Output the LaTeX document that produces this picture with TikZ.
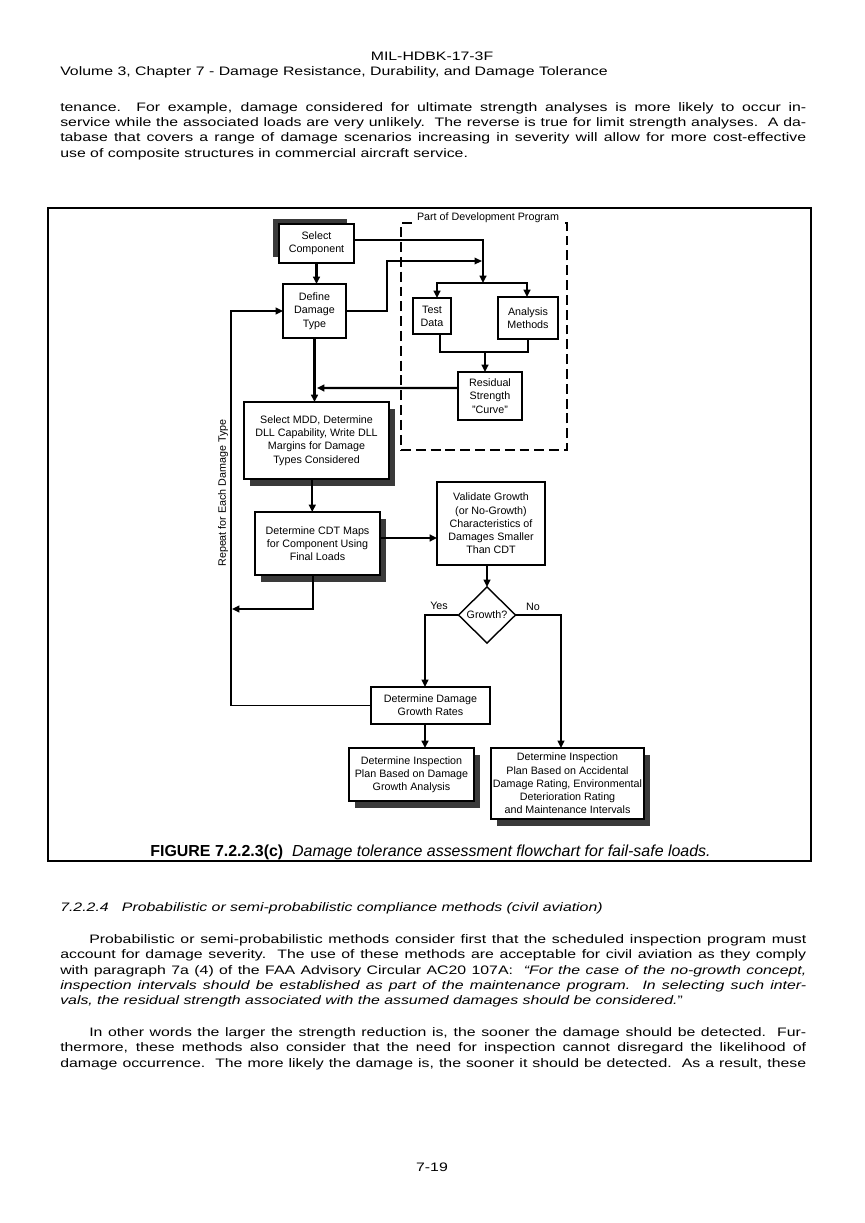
\documentclass[tikz,border=0pt]{standalone}
\usepackage{fontspec}
\setmainfont{Liberation Sans}
\newfontfamily\bodyface[FakeStretch=1.29]{Liberation Sans}
\usetikzlibrary{arrows.meta,shapes.geometric,shadows}
\definecolor{shadowc}{HTML}{3A3A3A}
\newcommand\dfont{\fontsize{7.6}{9.4}\selectfont}
\newcommand\bfont{\bodyface\fontsize{8.7}{10.9}\selectfont}
\newcommand\cfont{\fontsize{11.3}{13}\selectfont}
\newcommand\jline[3]{\node[anchor=base west, inner sep=0pt] (#1) at (60,#2) {\bfont\makebox[528.4pt][s]{#3}};}
\newcommand\iline[3]{\node[anchor=base west, inner sep=0pt] (#1) at (89,#2) {\bfont\makebox[507.9pt][s]{#3}};}
\newcommand\pline[4]{\node[anchor=base west, inner sep=0pt] (#1) at (#2,#3) {\bfont #4};}
\tikzset{
  box/.style={draw, line width=1pt, fill=white, inner sep=0pt, outer sep=0pt, align=center, font=\dfont},
  tip/.tip={Triangle[length=5.2pt,width=4.8pt]},
  thk/.style={line width=1.7pt, -tip},
  thn/.style={line width=0.9pt, -tip},
  ln/.style={line width=0.9pt},
  shad/.style={drop shadow={shadow xshift=4.25pt, shadow yshift=-4.9pt, fill=shadowc, opacity=1}},
  shadul/.style={drop shadow={shadow xshift=-4.6pt, shadow yshift=3.9pt, fill=shadowc, opacity=1}},
  lbl/.style={font=\dfont, inner sep=0.5pt},
}
\begin{document}
\begin{tikzpicture}[x=0.70833pt, y=-0.70833pt]
\fill[white] (0,0) rectangle (864,1223);
\useasboundingbox (0,0) rectangle (864,1223);

% header
\node[anchor=base, inner sep=0pt] (h1) at (432,60.5) {\bfont MIL-HDBK-17-3F};
\pline{h2}{60}{75}{Volume 3, Chapter 7 - Damage Resistance, Durability, and Damage Tolerance}

% paragraph 1
\jline{a1}{111}{tenance.\ \ For example, damage considered for ultimate strength analyses is more likely to occur in-}
\jline{a2}{126}{service while the associated loads are very unlikely.\ \ The reverse is true for limit strength analyses.\ \ A da-}
\jline{a3}{141.5}{tabase that covers a range of damage scenarios increasing in severity will allow for more cost-effective}
\pline{a4}{60}{157}{use of composite structures in commercial aircraft service.}

% frame
\draw[line width=1.1pt] (48,208) rectangle (811,861);

% dashed region
\node[draw, line width=1.5pt, dash pattern=on 7pt off 3.5pt, minimum width=117.6pt, minimum height=160.8pt, inner sep=0pt] (DP) at (484,336.5) {};
\node[lbl, fill=white] (pdp) at (488,218) {Part of Development Program};

% boxes
\node[box, shadul, minimum width=53.1pt, minimum height=27.6pt] (SC) at (316.5,243.5) {Select\\Component};
\node[box, minimum width=44.6pt, minimum height=38.25pt] (DD) at (314.5,311) {Define\\Damage\\Type};
\node[box, minimum width=26.9pt, minimum height=25.5pt] (TD) at (432,316) {Test\\Data};
\node[box, minimum width=42.5pt, minimum height=29.75pt] (AM) at (528,318) {Analysis\\Methods};
\node[box, minimum width=45.3pt, minimum height=34pt] (RS) at (490,396) {Residual\\Strength\\"Curve"};
\node[box, shad, minimum width=102.7pt, minimum height=54.5pt] (MDD) at (316.5,440.5) {Select MDD, Determine\\DLL Capability, Write DLL\\Margins for Damage\\Types Considered};
\node[box, shad, minimum width=88.5pt, minimum height=44.6pt] (CDT) at (317.5,543.5) {Determine CDT Maps\\for Component Using\\Final Loads};
\node[box, minimum width=76.5pt, minimum height=58.8pt] (VG) at (491,523.5) {Validate Growth\\(or No-Growth)\\Characteristics of\\Damages Smaller\\Than CDT};
\node[box, diamond, minimum width=40.4pt, minimum height=39.7pt] (GQ) at (487,615) {Growth?};
\node[box, minimum width=84.3pt, minimum height=26.2pt] (GR) at (430.5,705.5) {Determine Damage\\Growth Rates};
\node[box, shad, minimum width=88.5pt, minimum height=37.5pt] (IP1) at (411.5,774.5) {Determine Inspection\\Plan Based on Damage\\Growth Analysis};
\node[box, shad, minimum width=108.4pt, minimum height=50.3pt] (IP2) at (567.5,783.5) {Determine Inspection\\Plan Based on Accidental\\Damage Rating, Environmental\\Deterioration Rating\\and Maintenance Intervals};

% labels
\node[lbl] (yes) at (439,606) {Yes};
\node[lbl] (no) at (533,607) {No};
\node[lbl, rotate=90] (rep) at (223,493) {Repeat for Each Damage Type};

% coordinates
\coordinate (split) at (483,283);
\coordinate (sL) at (437,283);
\coordinate (sR) at (527,283);
\coordinate (dj) at (387,261);
\coordinate (jn) at (485,352);
\coordinate (rl) at (317,388);
\coordinate (ce) at ([yshift=3.9pt]CDT.east);
\coordinate (yesc) at (425,615);
\coordinate (noc) at (561,615);
\coordinate (lp) at (231,705);
\coordinate (cb) at (313,609);
\coordinate (cbe) at (232,609);

% connectors
\draw[thk] ([yshift=2.5pt]SC.east) -| (split);
\draw[thn] (DD.east) -| (dj) -- ([xshift=-0.8pt]dj -| split);
\draw[line width=1.7pt, tip-tip] (sL |- TD.north) |- (sR) -- (sR |- AM.north);
\draw[ln] ([xshift=5.7pt]TD.south) |- (AM.south |- jn) -- (AM.south);
\draw[thk] (jn) -- (jn |- RS.north);
\draw[thk] ([yshift=5.7pt]RS.west) -- (rl);
\draw[thk] (SC.south) -- (SC.south |- DD.north);
\draw[thk] (DD.south) -- (DD.south |- MDD.north);
\draw[thk] ([xshift=-3pt]MDD.south) -- ([xshift=-3pt]MDD.south |- CDT.north);
\draw[thk] (ce) -- (ce -| VG.west);
\draw[thk] (VG.south -| GQ.north) -- (GQ.north);
\draw[thn] (GQ.west) -- (yesc) -- (yesc |- GR.north);
\draw[thn] (GQ.east) -- (noc) -- (noc |- IP2.north);
\draw[thk] (GR.south -| yesc) -- (yesc |- IP1.north);
\draw[thn] (GR.west) -| (lp |- DD.west) -- (DD.west);
\draw[thn] (CDT.south -| cb) -- (cb) -- (cbe);

% caption
\node[anchor=base, inner sep=0pt] (cap) at (430.5,856) {\cfont\textbf{FIGURE 7.2.2.3(c)}\ \ \textit{Damage tolerance assessment flowchart for fail-safe loads.}};

% section heading
\pline{s1}{60}{911.5}{\textit{7.2.2.4\ \ \ Probabilistic or semi-probabilistic compliance methods (civil aviation)}}

% paragraph 2
\iline{b1}{943.5}{Probabilistic or semi-probabilistic methods consider first that the scheduled inspection program must}
\jline{b2}{958.5}{account for damage severity.\ \ The use of these methods are acceptable for civil aviation as they comply}
\jline{b3}{974.5}{with paragraph 7a (4) of the FAA Advisory Circular AC20 107A:\ \ \textit{“For the case of the no-growth concept,}}
\jline{b4}{989.5}{\textit{inspection intervals should be established as part of the maintenance program.\ \ In selecting such inter-}}
\pline{b5}{60}{1004.5}{\textit{vals, the residual strength associated with the assumed damages should be considered.}”}

% paragraph 3
\iline{c1}{1036.5}{In other words the larger the strength reduction is, the sooner the damage should be detected.\ \ Fur-}
\jline{c2}{1051.5}{thermore, these methods also consider that the need for inspection cannot disregard the likelihood of}
\jline{c3}{1067.5}{damage occurrence.\ \ The more likely the damage is, the sooner it should be detected.\ \ As a result, these}

% page number
\node[anchor=base, inner sep=0pt] (pg) at (432,1171.5) {\bfont 7-19};
\end{tikzpicture}
\end{document}
